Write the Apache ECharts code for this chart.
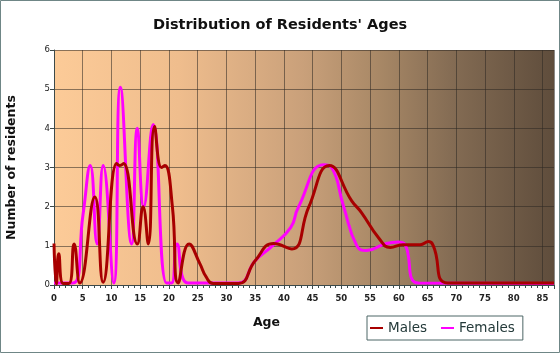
<!DOCTYPE html>
<html>
<head>
<meta charset="utf-8">
<title>Distribution of Residents' Ages</title>
<script src="https://cdn.jsdelivr.net/npm/echarts@6/dist/echarts.min.js"></script>
<style>
  html, body { margin: 0; padding: 0; background: #fff; }
  #chart { width: 560px; height: 353px; }
</style>
</head>
<body>
<div id="chart"></div>
<script>
// values
const maleAges = [0, 0.4, 0.82, 1.6, 2.6, 3.5, 4.5, 7.1, 8.55, 10.9, 11.45, 12.1, 14.5, 15.5, 16.4, 17.5, 18.7, 19.3, 20.6, 21.6, 23.5, 25.4, 26.5, 27.7, 32.1, 35, 38.2, 41.4, 44.3, 47.9, 51.8, 53.5, 56.5, 58.5, 60.7, 63.7, 65.2, 66, 68.5, 87];
const maleValues = [1.06, 0.02, 0.8, 0.04, 0.04, 1.05, 0.05, 2.25, 0.07, 3.1, 3.05, 3.1, 1.05, 2.0, 1.05, 4.05, 3.0, 3.05, 2.0, 0.05, 1.05, 0.54, 0.2, 0.04, 0.04, 0.62, 1.06, 0.92, 1.98, 3.05, 2.15, 1.85, 1.2, 0.96, 1.03, 1.03, 1.11, 1.0, 0.05, 0.05];

const femaleAges = [0, 3.3, 5.05, 6.3, 7.5, 8.55, 10.4, 11.55, 13.5, 14.5, 15.6, 17.25, 19.6, 20.45, 21.4, 23.3, 32, 35, 38, 41.2, 42.5, 46.9, 48.3, 50.4, 52.7, 54.4, 57.6, 59.9, 61, 63.4, 87];
const femaleValues = [0.05, 0.05, 1.8, 3.05, 1.05, 3.05, 0.05, 5.05, 1.05, 4.0, 2.0, 4.1, 0.05, 0.05, 1.05, 0.05, 0.05, 0.62, 1.0, 1.47, 1.98, 3.07, 3.0, 2.0, 1.0, 0.88, 1.05, 1.1, 1.05, 0.05, 0.04];

const seriesNames = ['Males', 'Females'];
const ageTicks = [0, 87, 5];      // min, max, step
const residentTicks = [0, 6, 1];

(function(){
  const chart = echarts.init(document.getElementById('chart'), null, { renderer: 'canvas' });
  const pairs = (xs, ys) => xs.map((x, i) => [x, ys[i]]);
  const axisColor = '#3c4a4a';
  const gridColor = 'rgba(45, 40, 35, 0.55)';

  chart.setOption({
    backgroundColor: '#fff',
    animation: false,
    title: {
      text: "Distribution of Residents' Ages",
      left: 'center',
      top: 13,
      textStyle: { fontFamily: 'DejaVu Sans', fontSize: 14.5, fontWeight: 'bold', color: '#111' }
    },
    legend: {
      data: seriesNames,
      left: 367,
      top: 316,
      icon: 'rect',
      itemWidth: 13,
      itemHeight: 2,
      itemGap: 14,
      padding: [5, 8, 5, 3],
      borderColor: '#4d6666',
      borderWidth: 1,
      textStyle: { fontFamily: 'DejaVu Sans', fontSize: 13.5, color: '#243a3a' }
    },
    graphic: [{
      type: 'rect',
      shape: { x: 0.5, y: 0.5, width: 559, height: 352 },
      style: { fill: 'none', stroke: '#6f8686', lineWidth: 1 },
      silent: true
    }],
    grid: {
      left: 54, right: 6, top: 50, bottom: 68,
      outerBoundsMode: 'none',
      containLabel: false,
      show: true,
      borderWidth: 0,
      backgroundColor: {
        type: 'linear', x: 0, y: 0, x2: 1, y2: 0,
        colorStops: [
          { offset: 0, color: '#fccb98' },
          { offset: 0.25, color: '#efbd8d' },
          { offset: 0.5, color: '#c9a07a' },
          { offset: 0.65, color: '#a88866' },
          { offset: 0.8, color: '#836b53' },
          { offset: 1, color: '#5f4d3c' }
        ]
      }
    },
    xAxis: {
      type: 'value',
      min: ageTicks[0],
      max: ageTicks[1],
      interval: ageTicks[2],
      name: 'Age',
      nameLocation: 'middle',
      nameGap: 31,
      nameTextStyle: { fontFamily: 'DejaVu Sans', fontSize: 12.5, fontWeight: 'bold', color: '#111', padding: [0, 75, 0, 0] },
      axisLine: { lineStyle: { color: axisColor, width: 1 } },
      axisTick: { length: 4, lineStyle: { color: axisColor } },
      minorTick: { show: true, splitNumber: 5, length: 3, lineStyle: { color: axisColor } },
      axisLabel: { margin: 9, showMaxLabel: false, fontFamily: 'DejaVu Sans', fontSize: 8.5, fontWeight: 'bold', color: '#222' },
      splitLine: { show: true, lineStyle: { color: gridColor, width: 1 } }
    },
    yAxis: {
      type: 'value',
      min: residentTicks[0],
      max: residentTicks[1],
      interval: residentTicks[2],
      name: 'Number of residents',
      nameLocation: 'middle',
      nameGap: 36,
      nameRotate: 90,
      nameTextStyle: { fontFamily: 'DejaVu Sans', fontSize: 12.5, fontWeight: 'bold', color: '#111' },
      axisLine: { show: true, lineStyle: { color: axisColor, width: 1 } },
      axisTick: { show: true, length: 4, lineStyle: { color: axisColor } },
      axisLabel: { margin: 4, fontFamily: 'DejaVu Sans', fontSize: 8.5, color: '#222' },
      splitLine: { show: true, lineStyle: { color: gridColor, width: 1 } }
    },
    series: [
      {
        name: 'Females',
        type: 'line',
        data: pairs(femaleAges, femaleValues),
        smooth: true,
        showSymbol: false,
        lineStyle: { color: '#ff00ff', width: 3 },
        itemStyle: { color: '#ff00ff' },
        z: 2
      },
      {
        name: 'Males',
        type: 'line',
        data: pairs(maleAges, maleValues),
        smooth: true,
        showSymbol: false,
        lineStyle: { color: '#a80000', width: 3 },
        itemStyle: { color: '#a80000' },
        z: 3
      }
    ]
  });
})();
</script>
</body>
</html>
